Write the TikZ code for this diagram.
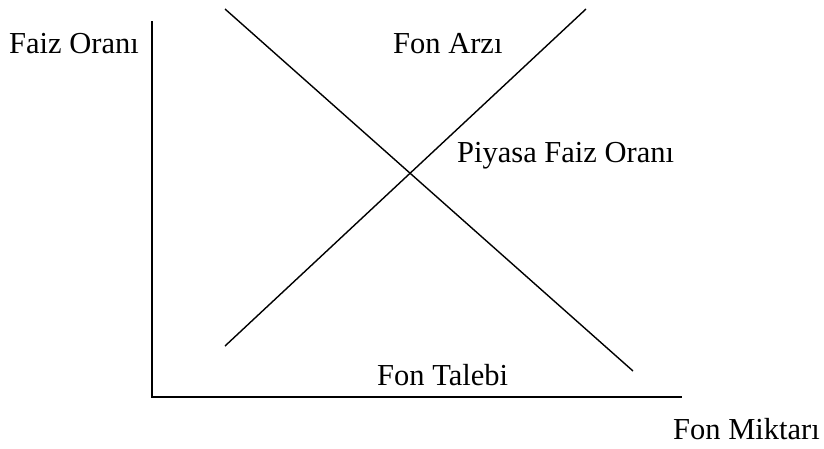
\documentclass[tikz,border=0pt]{standalone}
\usepackage{fontspec}
\setmainfont{Liberation Serif}
\begin{document}
\begin{tikzpicture}[x=1pt,y=-1pt,
  lbl/.style={anchor=base west,inner sep=0pt,font=\fontsize{30.5}{36}\selectfont},
  ln/.style={line width=1.4pt,black}]
\useasboundingbox (0,0) rectangle (824,448);
\coordinate (ytop) at (152,21);
\coordinate (orig) at (152,397);
\coordinate (xend) at (682,397);
\coordinate (d1) at (225,9);
\coordinate (d2) at (633,371);
\coordinate (s1) at (225,346);
\coordinate (s2) at (586,9);
\draw[ln] (ytop) -- (orig) -- (xend);
\draw[ln] (d1) -- (d2);
\draw[ln] (s1) -- (s2);
\node[lbl] (faiz) at (9,53) {Faiz Oranı};
\node[lbl] (arz) at (393,53) {Fon Arzı};
\node[lbl] (piyasa) at (457,162) {Piyasa Faiz Oranı};
\node[lbl] (talep) at (377,385) {Fon Talebi};
\node[lbl] (miktar) at (673,439) {Fon Miktarı};
\end{tikzpicture}
\end{document}
